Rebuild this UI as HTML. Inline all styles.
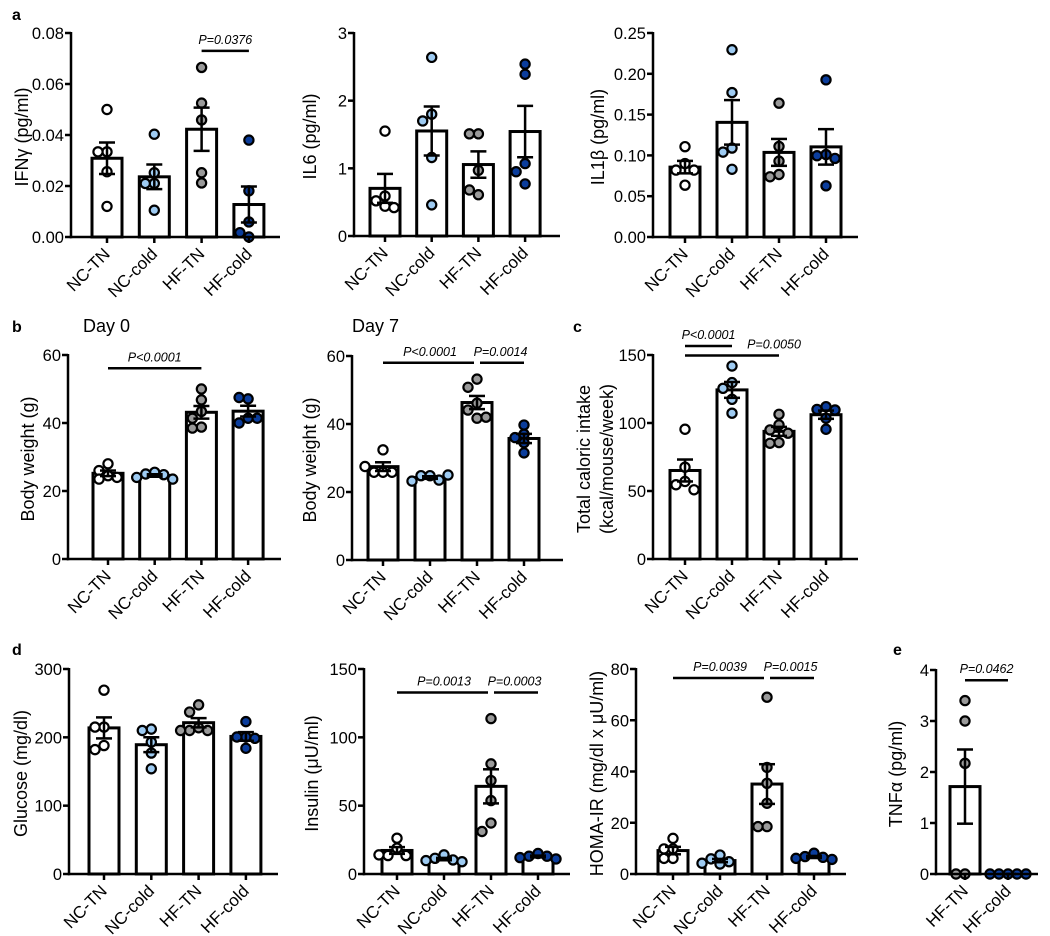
<!DOCTYPE html>
<html><head><meta charset="utf-8">
<style>
html,body{margin:0;padding:0;background:#fff;}
svg{display:block;font-family:"Liberation Sans",Arial,sans-serif;}
</style></head>
<body>
<svg id="fig" width="1050" height="936" viewBox="0 0 1050 936" xmlns="http://www.w3.org/2000/svg">
<text x="12" y="20" font-size="16" font-weight="bold">a</text>
<text x="12" y="332" font-size="16" font-weight="bold">b</text>
<text x="573" y="332" font-size="16" font-weight="bold">c</text>
<text x="12" y="655" font-size="16" font-weight="bold">d</text>
<text x="893" y="655" font-size="16" font-weight="bold">e</text>
<text x="83" y="332" font-size="18">Day 0</text>
<text x="352" y="332" font-size="18">Day 7</text>
</svg>
<script>
const groups4 = ["NC-TN","NC-cold","HF-TN","HF-cold"];
const groups2 = ["HF-TN","HF-cold"];
const colors4 = ["#ffffff","#9ecbf2","#9a9a9a","#0b3d9c"];
const colors2 = ["#9a9a9a","#0b3d9c"];

const ifngValues = [[0.050,0.0334,0.0334,0.0256,0.012],[0.0403,0.021,0.021,0.0252,0.0105],[0.0665,0.0525,0.0459,0.0252,0.0212],[0.038,0.0181,0.0059,0,0.0017]];
const ifngTicks = ["0.00","0.02","0.04","0.06","0.08"];
const ifngSig = [[2,3,0.073,"P=0.0376"]];

const il6Values = [[1.55,0.59,0.52,0.44,0.42],[2.64,1.80,1.70,1.16,0.46],[1.51,1.51,0.97,0.61,0.68],[2.54,2.39,1.07,0.95,0.77]];
const il6Ticks = ["0","1","2","3"];
const il6Sig = [];

const il1bValues = [[0.1107,0.090,0.082,0.082,0.0635],[0.2295,0.177,0.109,0.104,0.083],[0.164,0.111,0.093,0.0766,0.0738],[0.1926,0.101,0.0996,0.0963,0.0627]];
const il1bTicks = ["0.00","0.05","0.10","0.15","0.20","0.25"];
const il1bSig = [];

const bw0Values = [[28,26,24.5,24,23.5],[25.5,25,24.8,24,23.5],[50,46.8,43.4,41.4,38.8,38.5],[47.1,47.5,41.4,40,41.4]];
const bw0Ticks = ["0","20","40","60"];
const bw0Sig = [[0,2,56.1,"P<0.0001"]];

const bw7Values = [[32.4,25.8,25.8,25.8,27.5],[24.8,24.8,23.5,23.2,25],[53.2,50.8,46.1,44.1,41.7,42],[39.7,37,36,34.5,31.5]];
const bw7Ticks = ["0","20","40","60"];
const bw7Sig = [[0,2,58,"P<0.0001"],[2,3,58,"P=0.0014"]];

const kcalValues = [[95.4,67.5,57,54.6,50.9],[141.9,129.7,125.5,117.4,107.2],[106.4,98.6,94.9,92.5,85.6,85.1],[112,110,109.6,103.5,95.4]];
const kcalTicks = ["0","50","100","150"];
const kcalSig = [[0,1,156.6,"P<0.0001"],[0,2,149.6,"P=0.0050"]];

const gluValues = [[269,215,215,188,182],[212,210,193,177,154],[247.5,237,214,210,210,210],[223,200.5,200.5,198.5,184]];
const gluTicks = ["0","100","200","300"];
const gluSig = [];

const insValues = [[26.2,18.9,13.5,13.5,14],[14,11.5,10.3,9.8,9],[113.7,80.6,68.4,53.7,37.3,31.1],[15,13,13,12,11]];
const insTicks = ["0","50","100","150"];
const insSig = [[0,2,132.8,"P=0.0013"],[2,3,132.8,"P=0.0003"]];

const homaValues = [[13.9,9.8,9.8,6.1,6.1],[7.4,5.9,4.8,4.2,3.9],[69,41.6,35.4,27.6,18.5,18.5],[8.1,6.8,6.5,6.1,5.7]];
const homaTicks = ["0","20","40","60","80"];
const homaSig = [[0,2,76.5,"P=0.0039"],[2,3,76.5,"P=0.0015"]];

const tnfValues = [[3.4,3.0,2.17,0,0],[0,0,0,0,0]];
const tnfTicks = ["0","1","2","3","4"];
const tnfSig = [[0,1,3.8,"P=0.0462"]];

const NS = "http://www.w3.org/2000/svg";
const svg = document.getElementById("fig");
function mk(tag, attrs, parent){
  const e = document.createElementNS(NS, tag);
  for (const k in attrs) e.setAttribute(k, attrs[k]);
  (parent||svg).appendChild(e);
  return e;
}
function mean(a){ return a.reduce((s,v)=>s+v,0)/a.length; }
function sem(a){ const m=mean(a); if(a.length<2) return 0; const v=a.reduce((s,x)=>s+(x-m)*(x-m),0)/(a.length-1); return Math.sqrt(v/a.length); }

function panel(cfg){
  const g = mk("g", {});
  
  
  const max = parseFloat(cfg.ticks[cfg.ticks.length-1]);
  const y = v => cfg.zero - v/max*(cfg.zero-cfg.top);
  const x = i => cfg.c0 + i*cfg.step;
  const hw = 15, r = 4.6;
  cfg.values.forEach((vals,i)=>{
    const m = mean(vals);
    const b = mk("rect", {x:x(i)-hw, y:y(m), width:hw*2, height:Math.max(0,cfg.zero-y(m)), fill:"#fff", stroke:"#000", "stroke-width":3}, g);
    
    
  });
  cfg.values.forEach((vals,i)=>{
    const placed = [];
    vals.forEach(v=>{
      const py = y(v);
      const offs = [0,-9,9,-18,18,-4.5,4.5,-13.5,13.5];
      let ox = null, best = -1, bestO = 0;
      for (const o of offs){
        const dmin = placed.length ? Math.min(...placed.map(p=>Math.hypot(p[0]-o,p[1]-py))) : 99;
        if (dmin >= 8.5){ ox=o; break; }
        if (dmin > best){ best = dmin; bestO = o; }
      }
      if (ox === null) ox = bestO;
      placed.push([ox,py]);
      const c = mk("circle", {cx:x(i)+ox, cy:py, r:r, fill:cfg.colors[i], stroke:"#000", "stroke-width":2.2}, g);
      
      
    });
  });
  cfg.values.forEach((vals,i)=>{
    const m = mean(vals), s = sem(vals);
    const eg = mk("g", {stroke:"#000", "stroke-width":2.5, fill:"none"}, g);
    
    
    mk("line", {x1:x(i), x2:x(i), y1:y(m+s), y2:y(Math.max(0,m-s))}, eg);
    mk("line", {x1:x(i)-8, x2:x(i)+8, y1:y(m+s), y2:y(m+s)}, eg);
    mk("line", {x1:x(i)-8, x2:x(i)+8, y1:y(Math.max(0,m-s)), y2:y(Math.max(0,m-s))}, eg);
  });
  const ya = mk("line", {x1:cfg.ax, x2:cfg.ax, y1:cfg.top-1, y2:cfg.zero+1.25, stroke:"#000", "stroke-width":2.5}, g);
  
  
  const xa = mk("line", {x1:cfg.ax-1.25, x2:cfg.xend, y1:cfg.zero, y2:cfg.zero, stroke:"#000", "stroke-width":2.5}, g);
  
  
  cfg.ticks.forEach(t=>{
    const ty = y(parseFloat(t));
    mk("line", {x1:cfg.ax-6, x2:cfg.ax, y1:ty, y2:ty, stroke:"#000", "stroke-width":2.5}, g);
    const tl = mk("text", {x:cfg.ax-7, y:ty+6, "font-size":16.5, "text-anchor":"end"}, g);
    tl.textContent = t;
    
    
  });
  cfg.cats.forEach((c,i)=>{
    mk("line", {x1:x(i), x2:x(i), y1:cfg.zero, y2:cfg.zero+6, stroke:"#000", "stroke-width":2.5}, g);
    const tx = x(i)+4, ty = cfg.zero+18;
    const tl = mk("text", {x:tx, y:ty, "font-size":17, "text-anchor":"end", transform:"rotate(-45 "+tx+" "+ty+")"}, g);
    tl.textContent = c;
    
    
  });
  const my = (cfg.top+cfg.zero)/2 + 2;
  cfg.title.forEach((line,k)=>{
    const tx = cfg.titleX[k];
    const t = mk("text", {x:tx, y:my, "font-size":18, "text-anchor":"middle", transform:"rotate(-90 "+tx+" "+my+")"}, g);
    t.textContent = line;
    
    
  });
  cfg.sig.forEach((s,k)=>{
    const a = x(s[0]), b = x(s[1]), sy = y(s[2]);
    const gapL = (k>0 && cfg.sig[k-1][1]===s[0] && cfg.sig[k-1][2]===s[2]) ? 3 : 0;
    const gapR = (k<cfg.sig.length-1 && cfg.sig[k+1][0]===s[1] && cfg.sig[k+1][2]===s[2]) ? 3 : 0;
    const l = mk("line", {x1:a+gapL, x2:b-gapR, y1:sy, y2:sy, stroke:"#000", "stroke-width":2.5}, g);
    
    
    const dx = (cfg.sigDx && cfg.sigDx[k]) || 0;
    const t = mk("text", {x:(a+b)/2+dx, y:sy-7, "font-size":12.5, "font-style":"italic", "text-anchor":"middle"}, g);
    t.textContent = s[3];
    
    
  });
}

panel({name:"ifng-chart", values:ifngValues, ticks:ifngTicks, sig:ifngSig, cats:groups4, colors:colors4, ax:71, top:33, zero:237, xend:280, c0:107, step:47.3, title:["IFNγ (pg/ml)"], titleX:[28]});
panel({name:"il6-chart", values:il6Values, ticks:il6Ticks, sig:il6Sig, cats:groups4, colors:colors4, ax:354, top:33, zero:236, xend:560, c0:385, step:46.7, title:["IL6 (pg/ml)"], titleX:[316]});
panel({name:"il1b-chart", values:il1bValues, ticks:il1bTicks, sig:il1bSig, cats:groups4, colors:colors4, ax:653, top:33, zero:237, xend:858, c0:685, step:47, title:["IL1β (pg/ml)"], titleX:[604]});
panel({name:"bodyweight-day0-chart", values:bw0Values, ticks:bw0Ticks, sig:bw0Sig, cats:groups4, colors:colors4, ax:68, top:355, zero:559, xend:281, c0:108, step:46.7, title:["Body weight (g)"], titleX:[34]});
panel({name:"bodyweight-day7-chart", values:bw7Values, ticks:bw7Ticks, sig:bw7Sig, cats:groups4, colors:colors4, ax:352, top:356, zero:560, xend:563, c0:383, step:47, title:["Body weight (g)"], titleX:[316]});
panel({name:"caloric-intake-chart", values:kcalValues, ticks:kcalTicks, sig:kcalSig, sigDx:[0,42], cats:groups4, colors:colors4, ax:653, top:355, zero:559, xend:858, c0:685, step:47, title:["Total caloric intake","(kcal/mouse/week)"], titleX:[590,613]});
panel({name:"glucose-chart", values:gluValues, ticks:gluTicks, sig:gluSig, cats:groups4, colors:colors4, ax:69, top:669, zero:874, xend:278, c0:104, step:47.3, title:["Glucose (mg/dl)"], titleX:[27]});
panel({name:"insulin-chart", values:insValues, ticks:insTicks, sig:insSig, cats:groups4, colors:colors4, ax:364, top:669, zero:874, xend:570, c0:397, step:47, title:["Insulin (μU/ml)"], titleX:[318]});
panel({name:"homa-ir-chart", values:homaValues, ticks:homaTicks, sig:homaSig, cats:groups4, colors:colors4, ax:636, top:669, zero:874, xend:846, c0:673, step:47, title:["HOMA-IR (mg/dl x μU/ml)"], titleX:[603]});
panel({name:"tnfa-chart", values:tnfValues, ticks:tnfTicks, sig:tnfSig, cats:groups2, colors:colors2, ax:936, top:670, zero:874, xend:1038, c0:965, step:43, title:["TNFα (pg/ml)"], titleX:[902]});
</script>
</body></html>
